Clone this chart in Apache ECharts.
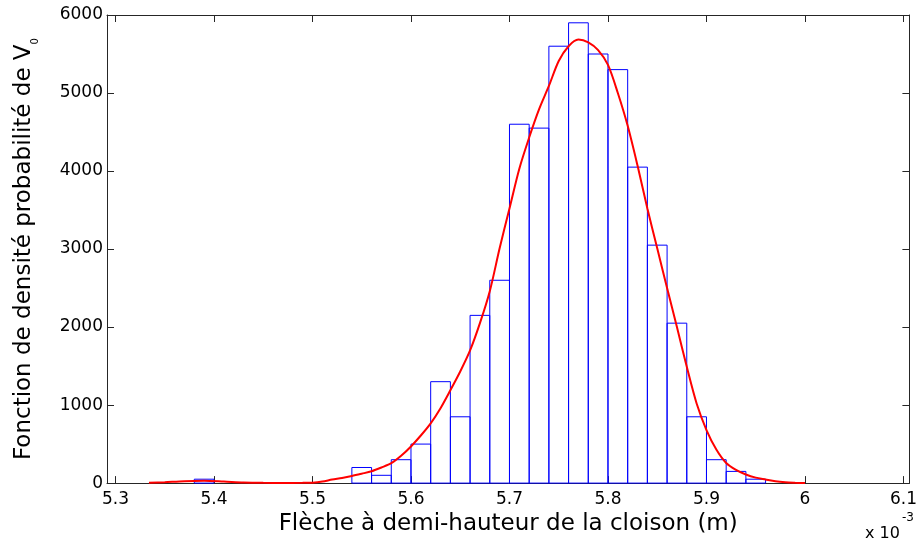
<!DOCTYPE html>
<html>
<head>
<meta charset="utf-8">
<script src="https://cdn.jsdelivr.net/npm/echarts@6/dist/echarts.min.js"></script>
<style>
  html, body { margin: 0; padding: 0; background: #fff; }
  #chart { width: 920px; height: 541px; }
</style>
</head>
<body>
<div id="chart"></div>
<script>
// Histogram bins (left edge, in units of 1e-3 m) and their heights
const binWidth = 0.02;
const binStarts = [5.38, 5.54, 5.56, 5.58, 5.60, 5.62, 5.64, 5.66, 5.68, 5.70, 5.72,
                   5.74, 5.76, 5.78, 5.80, 5.82, 5.84, 5.86, 5.88, 5.90, 5.92, 5.94];
const binHeights = [50, 200, 100, 300, 500, 1300, 850, 2150, 2600, 4600, 4550,
                    5600, 5900, 5500, 5300, 4050, 3050, 2050, 850, 300, 150, 50];

// Smoothed density estimate
const curveX = [5.334, 5.35, 5.37, 5.39, 5.41, 5.43, 5.45, 5.47, 5.49, 5.50, 5.51, 5.52,
                5.53, 5.54, 5.55, 5.56, 5.57, 5.58, 5.59, 5.60, 5.61, 5.62, 5.63, 5.64,
                5.65, 5.66, 5.67, 5.68, 5.69, 5.70, 5.71, 5.72, 5.73, 5.74, 5.75, 5.76,
                5.77, 5.78, 5.79, 5.80, 5.81, 5.82, 5.83, 5.84, 5.85, 5.86, 5.87, 5.88,
                5.89, 5.90, 5.91, 5.92, 5.93, 5.94, 5.95, 5.96, 5.97, 5.98, 5.99, 6.00];
const curveY = [3, 12, 25, 30, 20, 8, 3, 2, 3, 6, 20, 45,
                65, 90, 120, 152, 200, 255, 350, 470, 610, 766, 960, 1190,
                1430, 1700, 2050, 2460, 3010, 3520, 4030, 4430, 4790, 5090, 5410, 5600,
                5685, 5650, 5550, 5360, 5000, 4580, 4070, 3520, 3010, 2500, 2000, 1490,
                1020, 680, 430, 258, 170, 110, 70, 47, 25, 12, 5, 0];

// Axis ticks
const xTicks = [5.3, 5.4, 5.5, 5.6, 5.7, 5.8, 5.9, 6, 6.1];
const yTicks = [0, 1000, 2000, 3000, 4000, 5000, 6000];

const FONT = "'DejaVu Sans', 'Liberation Sans', Arial, sans-serif";
const AXIS_COLOR = '#262626';

const histData = binStarts.map((s, i) => [s, s + binWidth, binHeights[i]]);
const lineData = curveX.map((x, i) => [x, curveY[i]]);

const chart = echarts.init(document.getElementById('chart'), null, { renderer: 'canvas' });

const xBase = {
  type: 'value',
  min: 5.2914,
  max: 6.106,
  splitLine: { show: false },
  axisLine: { show: true, onZero: false, lineStyle: { color: AXIS_COLOR, width: 1 } },
  axisTick: { show: true, inside: true, length: 7, customValues: xTicks,
              lineStyle: { color: AXIS_COLOR } },
};
const yBase = {
  type: 'value',
  min: 0,
  max: 6000,
  interval: 1000,
  splitLine: { show: false },
  axisLine: { show: true, lineStyle: { color: AXIS_COLOR, width: 1 } },
  axisTick: { show: true, inside: true, length: 7, customValues: yTicks,
              lineStyle: { color: AXIS_COLOR } },
};

chart.setOption({
  animation: false,
  backgroundColor: '#ffffff',
  grid: { left: 107, right: 4, top: 15, bottom: 54, containLabel: false },
  xAxis: [
    Object.assign({}, xBase, {
      position: 'bottom',
      axisLabel: { show: true, customValues: xTicks, margin: 8, color: '#000',
                   fontFamily: FONT, fontSize: 17, formatter: v => String(v) },
      name: 'Flèche à demi-hauteur de la cloison (m)',
      nameLocation: 'middle',
      nameGap: 21,
      nameTextStyle: { color: '#000', fontFamily: FONT, fontSize: 23 },
    }),
    Object.assign({}, xBase, { position: 'top', axisLabel: { show: false } }),
  ],
  yAxis: [
    Object.assign({}, yBase, {
      position: 'left',
      axisLabel: { show: true, customValues: yTicks, margin: 4, color: '#000',
                   fontFamily: FONT, fontSize: 17, formatter: v => String(v) },
      name: '{t|Fonction de densité probabilité de V}{s|0}',
      nameLocation: 'middle',
      nameGap: 71,
      nameRotate: 90,
      nameTextStyle: {
        color: '#000', fontFamily: FONT, fontSize: 23,
        rich: {
          t: { fontFamily: FONT, fontSize: 23, color: '#000' },
          s: { fontFamily: FONT, fontSize: 10, color: '#000', verticalAlign: 'bottom',
               padding: [0, 0, -4, 0] },
        },
      },
    }),
    Object.assign({}, yBase, { position: 'right', axisLabel: { show: false } }),
  ],
  graphic: [
    { type: 'text', left: 865, top: 526,
      style: { text: 'x 10', fontFamily: FONT, fontSize: 16, fill: '#000' } },
    { type: 'text', left: 902, top: 512,
      style: { text: '-3', fontFamily: FONT, fontSize: 12, fill: '#000' } },
  ],
  series: [
    {
      type: 'custom',
      xAxisIndex: 0,
      yAxisIndex: 0,
      data: histData,
      renderItem: function (params, api) {
        const p0 = api.coord([api.value(0), api.value(2)]);
        const p1 = api.coord([api.value(1), 0]);
        return {
          type: 'rect',
          shape: { x: p0[0], y: p0[1], width: p1[0] - p0[0], height: p1[1] - p0[1] },
          style: { fill: 'rgba(255,255,255,0)', stroke: '#0000ff', lineWidth: 1 },
        };
      },
      z: 2,
    },
    {
      type: 'line',
      xAxisIndex: 0,
      yAxisIndex: 0,
      data: lineData,
      showSymbol: false,
      smooth: 0.3,
      lineStyle: { color: '#ff0000', width: 2 },
      z: 3,
    },
  ],
});
</script>
</body>
</html>
